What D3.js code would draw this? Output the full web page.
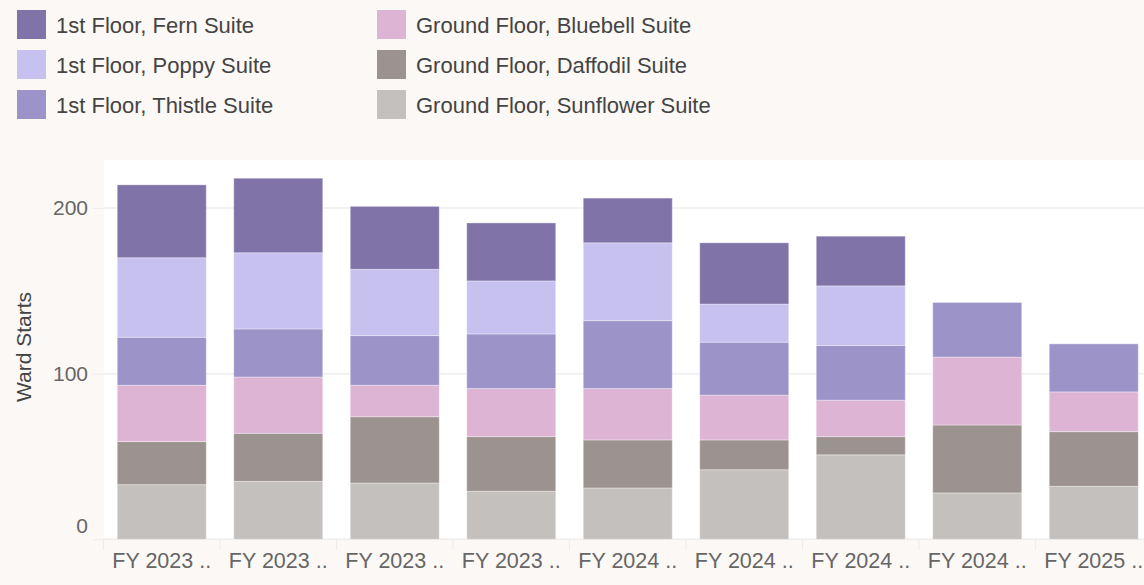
<!DOCTYPE html>
<html>
<head>
<meta charset="utf-8">
<script src="https://cdn.jsdelivr.net/npm/d3@7.9.0/dist/d3.min.js"></script>
<style>
  html, body { margin: 0; padding: 0; background: #fcf8f5; }
  svg { display: block; font-family: "Liberation Sans", Arial, sans-serif; }
</style>
</head>
<body>
<svg id="chart" width="1144" height="585"></svg>
<script>
// x-axis labels as shown (truncated in the original)
const tickLabels = ['FY 2023 ..', 'FY 2023 ..', 'FY 2023 ..', 'FY 2023 ..',
  'FY 2024 ..', 'FY 2024 ..', 'FY 2024 ..', 'FY 2024 ..', 'FY 2025 ..'];

// series, bottom of the stack first
const seriesNames = [
  'Ground Floor, Sunflower Suite',
  'Ground Floor, Daffodil Suite',
  'Ground Floor, Bluebell Suite',
  '1st Floor, Thistle Suite',
  '1st Floor, Poppy Suite',
  '1st Floor, Fern Suite',
];
const sunflower = [33, 35, 34, 29, 31, 42, 51, 28, 32];
const daffodil  = [26, 29, 40, 33, 29, 18, 11, 41, 33];
const bluebell  = [34, 34, 19, 29, 31, 27, 22, 41, 24];
const thistle   = [29, 29, 30, 33, 41, 32, 33, 33, 29];
const poppy     = [48, 46, 40, 32, 47, 23, 36, 0, 0];
const fern      = [44, 45, 38, 35, 27, 37, 30, 0, 0];

const seriesColors = ['#c4c0bd', '#9c928f', '#deb4d5', '#9c93c9', '#c7c1f0', '#8073a8'];
const yTicks = [0, 100, 200];

// legend order: two columns of three
const legendOrder = [
  '1st Floor, Fern Suite', '1st Floor, Poppy Suite', '1st Floor, Thistle Suite',
  'Ground Floor, Bluebell Suite', 'Ground Floor, Daffodil Suite', 'Ground Floor, Sunflower Suite',
];

const values = [sunflower, daffodil, bluebell, thistle, poppy, fern];
const rows = tickLabels.map((_, i) => {
  const row = { idx: i };
  seriesNames.forEach((s, k) => { row[s] = values[k][i]; });
  return row;
});

const svg = d3.select('#chart');
const panel = { left: 104, top: 160, right: 1144, bottom: 540 };

const color = d3.scaleOrdinal().domain(seriesNames).range(seriesColors);

const x = d3.scaleBand()
  .domain(d3.range(tickLabels.length))
  .range([103.5, 1152])
  .paddingInner(0.236)
  .paddingOuter(0.118);

const y = d3.scaleLinear()
  .domain([0, 229])
  .range([539.3, 160]);

// white plot panel
svg.append('rect')
  .attr('x', panel.left).attr('y', panel.top)
  .attr('width', panel.right - panel.left).attr('height', panel.bottom - panel.top)
  .attr('fill', '#ffffff');

// gridlines + y axis
const yAxis = svg.append('g')
  .attr('transform', `translate(${panel.left},0)`)
  .call(d3.axisLeft(y).tickValues(yTicks).tickSize(11).tickPadding(5));
yAxis.select('.domain').remove();
yAxis.selectAll('.tick line').attr('stroke', '#ededed');
yAxis.selectAll('.tick text')
  .attr('fill', '#666')
  .style('font-size', '21px')
  .attr('dy', d => (d === 0 ? '-0.33em' : '0.32em'));

svg.append('g')
  .selectAll('line')
  .data(yTicks)
  .join('line')
  .attr('x1', panel.left).attr('x2', panel.right)
  .attr('y1', d => y(d)).attr('y2', d => y(d))
  .attr('stroke', '#eeeeee')
  .attr('stroke-width', 1.5);

// stacked bars
const stacked = d3.stack().keys(seriesNames)(rows);

svg.append('g')
  .selectAll('g')
  .data(stacked)
  .join('g')
  .attr('fill', d => color(d.key))
  .selectAll('rect')
  .data(d => d.filter(p => p[1] > p[0]))
  .join('rect')
  .attr('x', d => x(d.data.idx))
  .attr('width', x.bandwidth())
  .attr('y', d => y(d[1]))
  .attr('height', d => y(d[0]) - y(d[1]))
  .attr('stroke', 'rgba(255,255,255,0.35)')
  .attr('stroke-width', 1);

// x axis: boundary ticks between categories, labels at the centres
const boundaries = d3.range(tickLabels.length + 1).map(k => x.range()[0] + k * x.step());
svg.append('g')
  .selectAll('line')
  .data(boundaries)
  .join('line')
  .attr('x1', d => d).attr('x2', d => d)
  .attr('y1', panel.bottom).attr('y2', panel.bottom + 10)
  .attr('stroke', '#ededed');

svg.append('g')
  .selectAll('text')
  .data(tickLabels)
  .join('text')
  .attr('x', (d, i) => x(i) + x.bandwidth() / 2)
  .attr('y', 568)
  .attr('text-anchor', 'middle')
  .attr('fill', '#666')
  .style('font-size', '21.5px')
  .text(d => d);

// y axis title
svg.append('text')
  .attr('transform', 'translate(31,347) rotate(-90)')
  .attr('text-anchor', 'middle')
  .attr('fill', '#444')
  .style('font-size', '21px')
  .text('Ward Starts');

// legend
const legend = svg.append('g')
  .selectAll('g')
  .data(legendOrder)
  .join('g')
  .attr('transform', (d, i) => `translate(${17 + Math.floor(i / 3) * 360},${10 + (i % 3) * 40})`);

legend.append('rect')
  .attr('width', 29).attr('height', 29)
  .attr('fill', d => color(d));

legend.append('text')
  .attr('x', 39).attr('y', 15)
  .attr('dy', '0.35em')
  .attr('fill', '#444')
  .style('font-size', '22px')
  .text(d => d);
</script>
</body>
</html>
